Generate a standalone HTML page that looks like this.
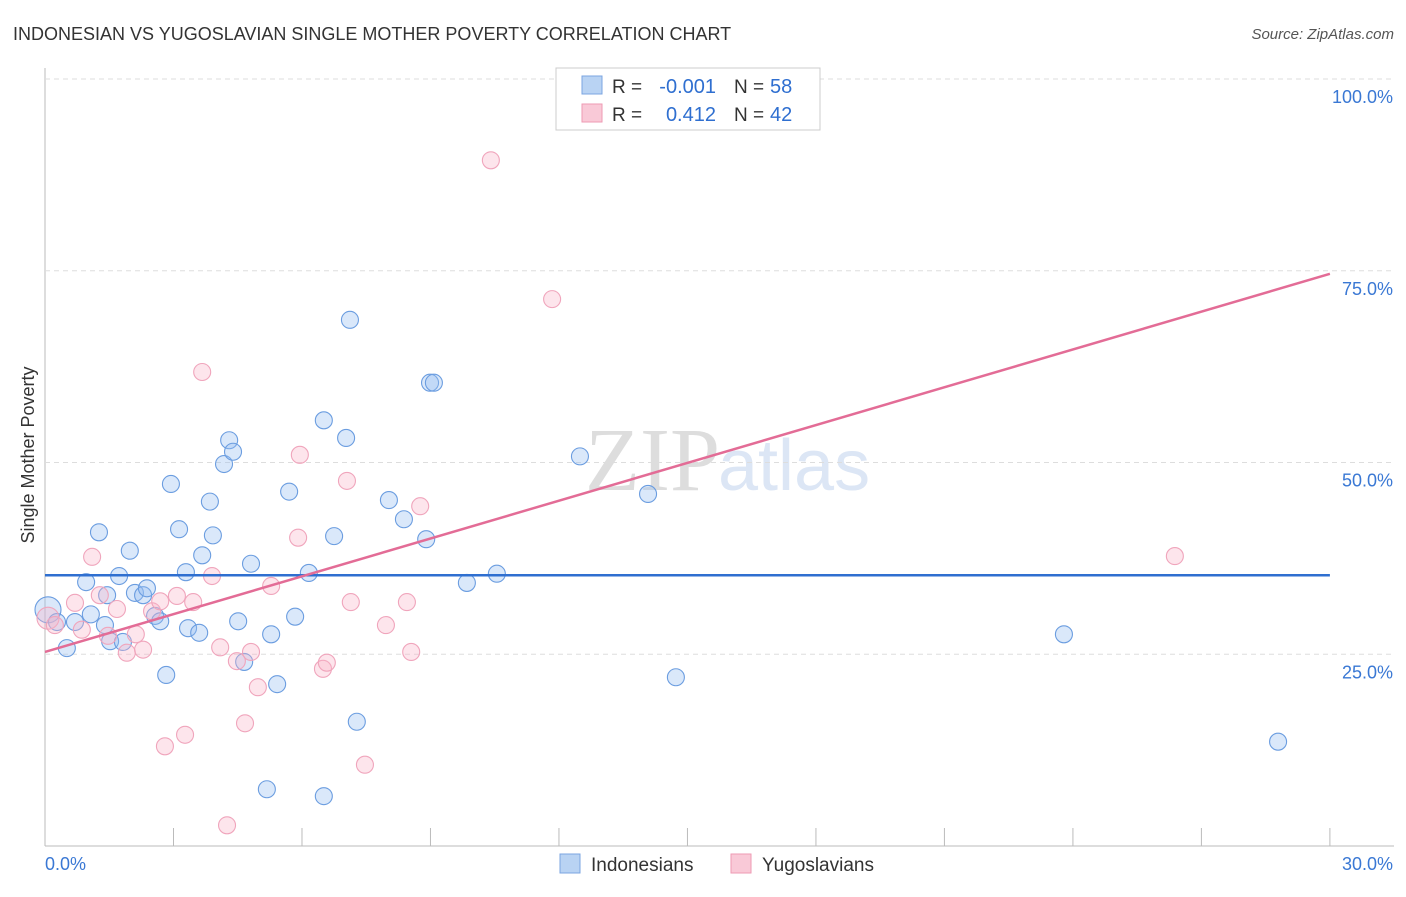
<!DOCTYPE html>
<html><head><meta charset="utf-8"><style>
body{margin:0;background:#fff;font-family:"Liberation Sans",sans-serif}
</style></head><body>
<svg id="c" width="1406" height="892" xmlns="http://www.w3.org/2000/svg" style="font-family:'Liberation Sans',sans-serif">
<text x="13" y="40" font-size="18" fill="#333">INDONESIAN VS YUGOSLAVIAN SINGLE MOTHER POVERTY CORRELATION CHART</text>
<text x="1394" y="39" font-size="15" fill="#555" text-anchor="end" font-style="italic">Source: ZipAtlas.com</text>
<text transform="translate(34,455) rotate(-90)" font-size="18" fill="#333" text-anchor="middle">Single Mother Poverty</text>
<text x="720" y="490" font-size="90" fill="#ddd" text-anchor="end" font-family="Liberation Serif">ZIP</text>
<text x="718" y="490" font-size="72" fill="#dce6f5">atlas</text>
<g id="grid"></g><g id="pts"></g><g id="lines"></g>
<g>
<rect x="556" y="68" width="264" height="62" fill="#fff" stroke="#ccc"/>
<rect x="582" y="76" width="20" height="18" fill="#b9d3f3" stroke="#7ba5e0"/>
<rect x="582" y="104" width="20" height="18" fill="#f9c9d7" stroke="#ee9ab3"/>
<text x="612" y="93" font-size="19" fill="#333">R =</text>
<text x="716" y="93" font-size="20" fill="#2f6fd0" text-anchor="end">-0.001</text>
<text x="734" y="93" font-size="19" fill="#333">N =</text>
<text x="770" y="93" font-size="20" fill="#2f6fd0">58</text>
<text x="612" y="121" font-size="19" fill="#333">R =</text>
<text x="716" y="121" font-size="20" fill="#2f6fd0" text-anchor="end">0.412</text>
<text x="734" y="121" font-size="19" fill="#333">N =</text>
<text x="770" y="121" font-size="20" fill="#2f6fd0">42</text>
</g>
<g>
<rect x="560" y="854" width="20" height="19" fill="#b9d3f3" stroke="#7ba5e0"/>
<text x="591" y="871" font-size="19" fill="#333">Indonesians</text>
<rect x="731" y="854" width="20" height="19" fill="#f9c9d7" stroke="#ee9ab3"/>
<text x="762" y="871" font-size="19" fill="#333">Yugoslavians</text>
</g>
</svg>
<script>
const blueX=[0.07,0.28,0.51,0.70,0.96,1.07,1.26,1.40,1.45,1.52,1.73,1.82,1.98,2.10,2.29,2.38,2.57,2.69,2.83,2.94,3.13,3.29,3.34,3.60,3.67,3.85,3.92,4.18,4.30,4.39,4.51,4.65,4.81,5.18,5.28,5.42,5.70,5.84,6.16,6.51,6.51,6.75,7.03,7.12,7.28,8.03,8.38,8.90,8.99,9.08,9.85,10.55,12.49,14.08,14.73,23.79,28.79];
const blueY=[30.8,29.2,25.8,29.2,34.4,30.2,40.9,28.8,32.7,26.7,35.2,26.6,38.5,33.0,32.7,33.6,30.0,29.3,22.3,47.2,41.3,35.7,28.4,27.8,37.9,44.9,40.5,49.8,52.9,51.4,29.3,24.0,36.8,7.4,27.6,21.1,46.2,29.9,35.6,6.5,55.5,40.4,53.2,68.6,16.2,45.1,42.6,40.0,60.4,60.4,34.3,35.5,50.8,45.9,22.0,27.6,13.6];
const pinkX=[0.07,0.23,0.70,0.86,1.10,1.28,1.47,1.68,1.91,2.12,2.29,2.50,2.69,2.80,3.08,3.27,3.46,3.67,3.90,4.09,4.48,4.67,4.81,4.97,5.28,5.91,5.95,6.49,6.58,7.05,7.14,7.47,7.96,8.45,8.55,8.76,4.25,10.41,11.84,26.38];
const pinkY=[29.7,28.8,31.7,28.2,37.7,32.7,27.4,30.9,25.2,27.6,25.6,30.6,31.9,13.0,32.6,14.5,31.8,61.8,35.2,25.9,24.1,16.0,25.3,20.7,33.9,40.2,51.0,23.1,23.9,47.6,31.8,10.6,28.8,31.8,25.3,44.3,2.7,89.4,71.3,37.8];
const blueTrend=[35.3,35.3];
const pinkTrend=[25.3,74.6];
const yTicks=[25,50,75,100];
const yTickLabels=["25.0%","50.0%","75.0%","100.0%"];
const xTicks=[0,3,6,9,12,15,18,21,24,27,30];
const NS="http://www.w3.org/2000/svg";
const sx=v=>45+v*42.83, sy=v=>846-v*7.67;
function mk(t,a,p){const e=document.createElementNS(NS,t);for(const k in a)e.setAttribute(k,a[k]);p.appendChild(e);return e;}
const g=document.getElementById('grid');
let ax=mk('line',{x1:45,y1:68,x2:45,y2:846,stroke:'#bbb'},g);


let bx=mk('line',{x1:45,y1:846,x2:1394,y2:846,stroke:'#bbb'},g);


yTicks.forEach((v,i)=>{
 const l=mk('line',{x1:45,y1:sy(v),x2:1394,y2:sy(v),stroke:'#ddd','stroke-dasharray':'5,4'},g);
 
 
 const t=mk('text',{x:1393,y:sy(v)+24,'font-size':18,fill:'#3a78d4','text-anchor':'end'},g);
 t.textContent=yTickLabels[i];
 
 
});
xTicks.forEach(v=>{
 const l=mk('line',{x1:sx(v),y1:828,x2:sx(v),y2:846,stroke:'#bbb'},g);
 
 
});
let t0=mk('text',{x:45,y:870,'font-size':18,fill:'#3a78d4'},g);t0.textContent="0.0%";


let t1=mk('text',{x:1393,y:870,'font-size':18,fill:'#3a78d4','text-anchor':'end'},g);t1.textContent="30.0%";


const p=document.getElementById('pts');
blueX.forEach((x,i)=>{
 const c=mk('circle',{cx:sx(x),cy:sy(blueY[i]),r:i==0?13:8.5,fill:'rgba(150,190,240,0.35)',stroke:'#6b9de0','stroke-width':1.1},p);
 
 
});
pinkX.forEach((x,i)=>{
 const c=mk('circle',{cx:sx(x),cy:sy(pinkY[i]),r:i==0?11:8.5,fill:'rgba(248,180,200,0.35)',stroke:'#f0a5bc','stroke-width':1.1},p);
 
 
});
const L=document.getElementById('lines');
let bl=mk('line',{x1:sx(0),y1:sy(blueTrend[0]),x2:sx(30),y2:sy(blueTrend[1]),stroke:'#2f6fd0','stroke-width':2.5},L);


let pl=mk('line',{x1:sx(0),y1:sy(pinkTrend[0]),x2:sx(30),y2:sy(pinkTrend[1]),stroke:'#e36c96','stroke-width':2.5},L);


</script>
</body></html>
